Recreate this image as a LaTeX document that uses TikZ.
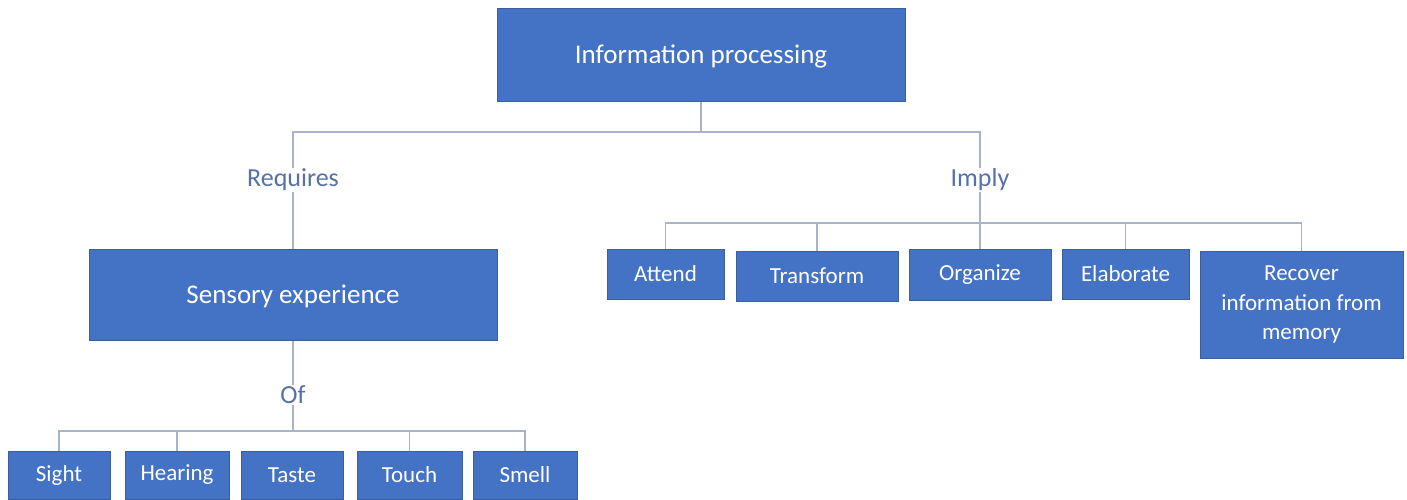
\documentclass[tikz,border=0pt]{standalone}
\usepackage{fontspec}
\setmainfont{Carlito}
\usepackage{xcolor}
\usepackage{tikz}

\definecolor{boxblue}{HTML}{4472C4}
\definecolor{boxedge}{HTML}{3A5F9F}
\definecolor{linkgray}{HTML}{A9B4CC}
\definecolor{labelblue}{HTML}{5670A8}

\tikzset{
	box/.style={draw=boxedge, fill=boxblue, text=white, line width=1pt, inner sep=0pt, align=center},
	bigbox/.style={box, text depth=0pt, font=\fontsize{27}{32}\selectfont},
	smallbox/.style={box, font=\fontsize{23}{29.5}\selectfont},
	lbl/.style={text=labelblue, fill=white, inner sep=1pt, font=\fontsize{26}{30}\selectfont},
	link/.style={draw=linkgray, line width=1.5pt},
}

\begin{document}
\begin{tikzpicture}[x=1pt,y=-1pt]
	\useasboundingbox (0,0) rectangle (1407,499);

	% boxes
	\node[bigbox, minimum width=408pt, minimum height=93pt](info) at (701,54.5){Information processing};
	\node[bigbox, minimum width=408pt, minimum height=91pt](sense) at (293,294.5){Sensory experience};

	\node[smallbox, minimum width=117pt, minimum height=50pt](att) at (665.5,274){Attend};
	\node[smallbox, minimum width=162pt, minimum height=50pt](trans) at (817,276){Transform};
	\node[smallbox, minimum width=142pt, minimum height=51pt](org) at (980,274.5){Organize};
	\node[smallbox, minimum width=127pt, minimum height=50pt](elab) at (1125.5,274){Elaborate};
	\node[smallbox, minimum width=203pt, minimum height=107pt](recov) at (1301.5,304.5){Recover\\information from\\memory};

	\node[smallbox, minimum width=102pt, minimum height=48pt](sight) at (59,475){Sight};
	\node[smallbox, minimum width=104pt, minimum height=48pt](hear) at (177,475){Hearing};
	\node[smallbox, minimum width=102pt, minimum height=48pt](taste) at (292,475){Taste};
	\node[smallbox, minimum width=105pt, minimum height=48pt](touch) at (409.5,475){Touch};
	\node[smallbox, minimum width=104pt, minimum height=48pt](smell) at (525,475){Smell};

	% connectors
	\coordinate (split) at (701,132);
	\coordinate (rbar) at (980,223);
	\coordinate (lbar) at (293,431);

	\draw[link] (info.south) -- (split);
	\draw[link] (sense.north) |- (split) -| (org.north);

	\draw[link] (att.north) |- (rbar) -| (recov.north);
	\draw[link] (trans.north) -- (trans.north |- rbar);
	\draw[link] (elab.north) -- (elab.north |- rbar);

	\draw[link] (sense.south) -- (lbar);
	\draw[link] (sight.north) |- (lbar) -| (smell.north);
	\draw[link] (hear.north) -- (hear.north |- lbar);
	\draw[link] (touch.north) -- (touch.north |- lbar);

	% labels
	\node[lbl](requires) at (293,180){Requires};
	\node[lbl](imply) at (980,180){Imply};
	\node[lbl](of) at (293,395){Of};
\end{tikzpicture}
\end{document}
